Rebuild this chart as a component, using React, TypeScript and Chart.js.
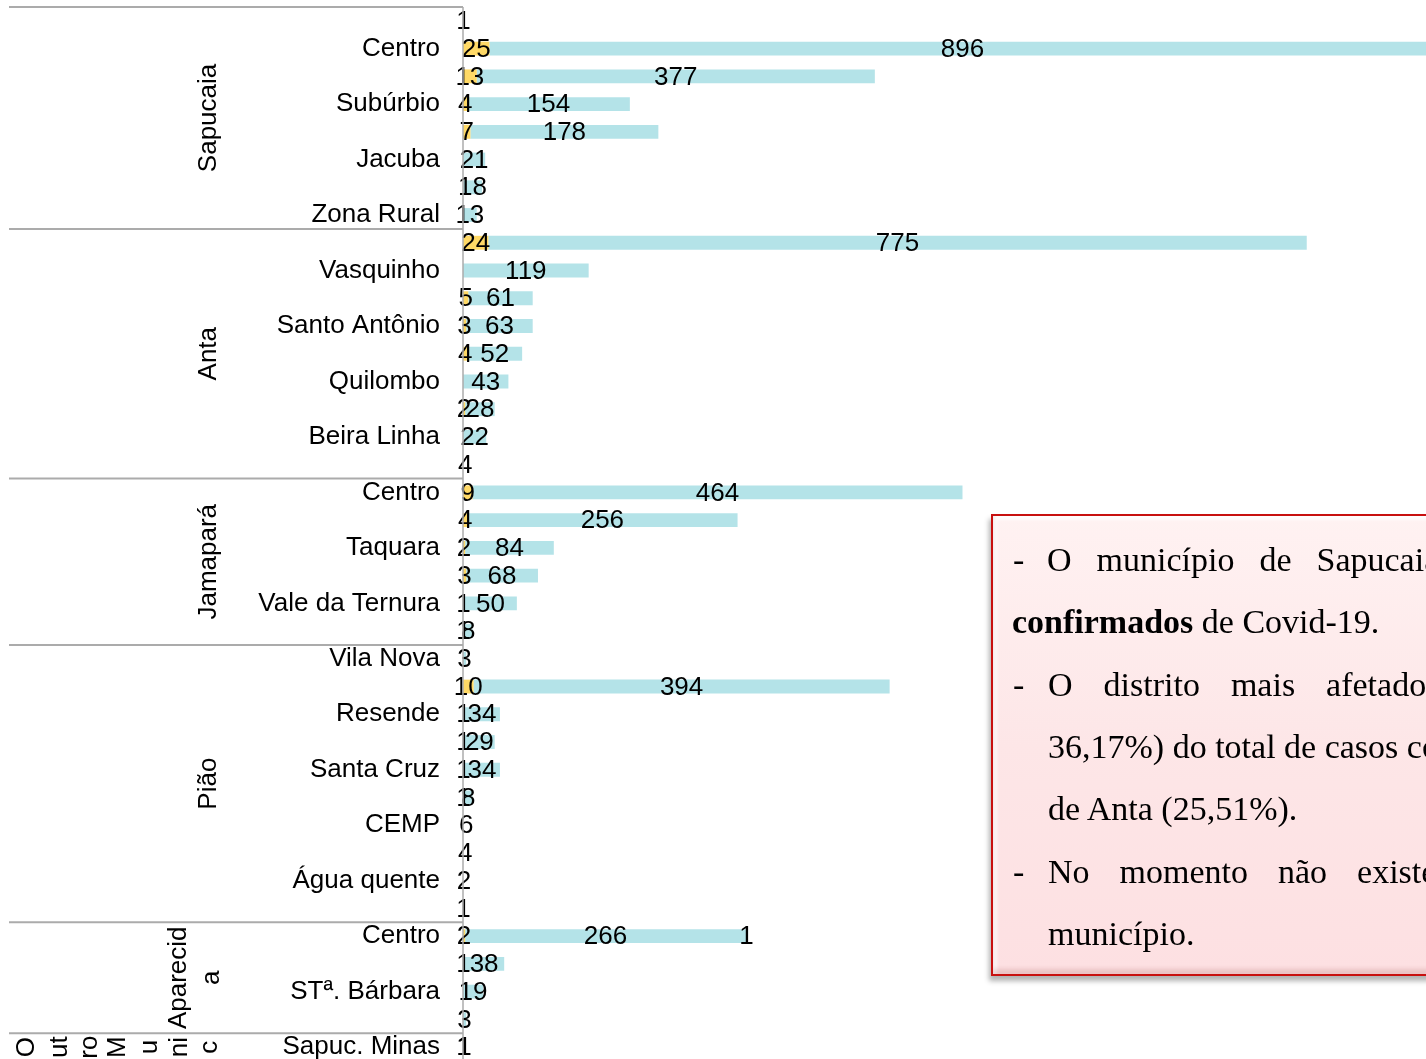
import React, { useEffect, useRef } from "react";
import { Chart, registerables } from "chart.js";

Chart.register(...registerables);

// Categories, top to bottom (hidden category names are blank)
const categories = [
  "", "Centro", "", "Subúrbio", "", "Jacuba", "", "Zona Rural",
  "", "Vasquinho", "", "Santo Antônio", "", "Quilombo", "", "Beira Linha", "",
  "Centro", "", "Taquara", "", "Vale da Ternura", "",
  "Vila Nova", "", "Resende", "", "Santa Cruz", "", "CEMP", "", "Água quente", "",
  "Centro", "", "STª. Bárbara", "",
  "Sapuc. Minas",
];

const groupNames = ["Sapucaia", "Anta", "Jamapará", "Pião", "Aparecida", "Outro Municipio"];
const groupSizes = [8, 9, 6, 10, 4, 1];
// how each group label wraps on the picture
const groupLabelLines = [
  ["Sapucaia"],
  ["Anta"],
  ["Jamapará"],
  ["Pião"],
  ["Aparecid", "a"],
  ["O", "ut", "ro", "M", "u", "ni", "c"],
];

const ativos = [
  null, 25, 13, 4, 7, null, null, null,
  24, null, 5, 3, 4, null, 2, null, null,
  9, 4, 2, 3, 1, 1,
  null, 10, 1, 1, 1, 1, null, null, null, null,
  2, 1, null, null,
  null,
];

const recuperados = [
  null, 896, 377, 154, 178, 21, 18, 13,
  775, 119, 61, 63, 52, 43, 28, 22, null,
  464, 256, 84, 68, 50, 8,
  3, 394, 34, 29, 34, 8, null, null, null, null,
  266, 38, 19, 3,
  1,
];

const outros = [
  1, null, null, null, null, null, null, null,
  null, null, null, null, null, null, null, null, 4,
  null, null, null, null, null, null,
  null, null, null, null, null, null, 6, 4, 2, 1,
  1, null, null, null,
  1,
];

const SANS = "'Liberation Sans', Arial, Helvetica, sans-serif";
const SERIF = "'Liberation Serif', 'Times New Roman', Times, serif";

// x positions of the wrapped lines of each group label
const groupLabelX = [[209], [209], [209], [209], [179, 212], [27, 60, 90, 118, 150, 180, 210]];

const groupPlugin = {
  id: "groupsAndAxis",
  afterDraw(chart: any) {
    const { ctx, chartArea } = chart;
    const ys = chart.scales.y;
    const half = (ys.getPixelForValue(1) - ys.getPixelForValue(0)) / 2;
    ctx.save();
    // axis line
    ctx.strokeStyle = "#ababab";
    ctx.lineWidth = 1.5;
    ctx.beginPath();
    ctx.moveTo(chartArea.left, chartArea.top);
    ctx.lineTo(chartArea.left, chartArea.bottom + 10);
    ctx.stroke();
    // group separators and labels
    ctx.lineWidth = 2;
    let start = 0;
    groupSizes.forEach((size, g) => {
      const yTop = ys.getPixelForValue(start) - half;
      ctx.strokeStyle = "#ababab";
      ctx.beginPath();
      ctx.moveTo(9, yTop);
      ctx.lineTo(chartArea.left, yTop);
      ctx.stroke();
      const yc = (ys.getPixelForValue(start) + ys.getPixelForValue(start + size - 1)) / 2;
      const lines = groupLabelLines[g] || [groupNames[g]];
      ctx.fillStyle = "#000";
      ctx.font = `26px ${SANS}`;
      ctx.textAlign = "center";
      ctx.textBaseline = "middle";
      lines.forEach((ln, k) => {
        ctx.save();
        ctx.translate(groupLabelX[g][k], yc);
        ctx.rotate(-Math.PI / 2);
        ctx.fillText(ln, 0, 0);
        ctx.restore();
      });
      start += size;
    });
    ctx.restore();
  },
};

const valueLabelPlugin = {
  id: "valueLabels",
  afterDatasetsDraw(chart: any) {
    const ctx = chart.ctx;
    ctx.save();
    ctx.font = `26px ${SANS}`;
    ctx.fillStyle = "#000";
    ctx.textAlign = "center";
    ctx.textBaseline = "middle";
    chart.data.datasets.forEach((ds: any, i: number) => {
      const meta = chart.getDatasetMeta(i);
      meta.data.forEach((el: any, j: number) => {
        const v = ds.data[j];
        if (v == null) return;
        const { x, base, y } = el.getProps(["x", "base", "y"], true);
        ctx.fillText(String(v), (x + base) / 2, y + 1);
      });
    });
    ctx.restore();
  },
};

function ChartView() {
  const ref = useRef<HTMLCanvasElement>(null);
  useEffect(() => {
    if (!ref.current) return;
    const chart = new Chart(ref.current, {
      type: "bar",
      data: {
        labels: categories,
        datasets: [
          { label: "Ativos", data: ativos, backgroundColor: "#ffd966", barPercentage: 0.5, categoryPercentage: 1 },
          { label: "Recuperados", data: recuperados, backgroundColor: "#b4e3e8", barPercentage: 0.5, categoryPercentage: 1 },
          { label: "Outros", data: outros, backgroundColor: "rgba(0,0,0,0)", barPercentage: 0.5, categoryPercentage: 1 },
        ],
      },
      options: {
        indexAxis: "y",
        animation: false,
        responsive: false,
        devicePixelRatio: 1,
        layout: { padding: { left: 0, top: 7, right: 11, bottom: 1 } },
        plugins: { legend: { display: false }, tooltip: { enabled: false } },
        scales: {
          x: { type: "linear", min: 0, max: 1000, stacked: true, display: false },
          y: {
            stacked: true,
            grid: { display: false, drawTicks: false },
            border: { display: false },
            afterFit: (scale: any) => {
              scale.width = 463;
              scale.paddingTop = 0;
              scale.paddingBottom = 0;
            },
            ticks: {
              autoSkip: false,
              padding: 23,
              color: "#000",
              font: { family: SANS, size: 26 },
            },
          },
        },
      },
      plugins: [valueLabelPlugin, groupPlugin],
    } as any);
    return () => chart.destroy();
  }, []);
  return (
    <canvas
      ref={ref}
      width={1530}
      height={1062}
      style={{ position: "absolute", left: 0, top: 0, width: 1530, height: 1062 }}
    />
  );
}

const lineTop = (i: number) => 540 + 62.3 * i;

function NoteBox() {
  const base: React.CSSProperties = {
    position: "absolute",
    whiteSpace: "nowrap",
    fontFamily: SERIF,
    fontSize: 34,
    lineHeight: "40px",
    color: "#000",
  };
  return (
    <>
      <div
        style={{
          position: "absolute",
          left: 991,
          top: 514,
          width: 620,
          height: 458,
          border: "2px solid #c8100f",
          background: "linear-gradient(to bottom, #fff2f2 0%, #fde6e7 50%, #fde0e2 100%)",
          boxShadow:
            "-2px 5px 5px rgba(0,0,0,0.3), inset 0 -5px 4px rgba(170,90,90,0.22), inset 4px 4px 3px rgba(255,255,255,0.75)",
        }}
      />
      <div style={{ ...base, left: 1013, top: lineTop(0) }}>-</div>
      <div style={{ ...base, left: 1047, top: lineTop(0), wordSpacing: 16.5 }}>O município de Sapucaia possui</div>
      <div style={{ ...base, left: 1012, top: lineTop(1) }}>
        <b>confirmados</b> de Covid-19.
      </div>
      <div style={{ ...base, left: 1013, top: lineTop(2) }}>-</div>
      <div style={{ ...base, left: 1048, top: lineTop(2), wordSpacing: 22.5 }}>O distrito mais afetado</div>
      <div style={{ ...base, left: 1048, top: lineTop(3) }}>36,17%) do total de casos confirmados</div>
      <div style={{ ...base, left: 1048, top: lineTop(4) }}>de Anta (25,51%).</div>
      <div style={{ ...base, left: 1013, top: lineTop(5) }}>-</div>
      <div style={{ ...base, left: 1048, top: lineTop(5), wordSpacing: 21.5 }}>No momento não existe</div>
      <div style={{ ...base, left: 1048, top: lineTop(6) }}>município.</div>
    </>
  );
}

export default function App() {
  return (
    <div
      style={{
        position: "absolute",
        left: 0,
        top: 0,
        width: 1426,
        height: 1059,
        overflow: "hidden",
        background: "#fff",
      }}
    >
      <ChartView />
      <NoteBox />
    </div>
  );
}
